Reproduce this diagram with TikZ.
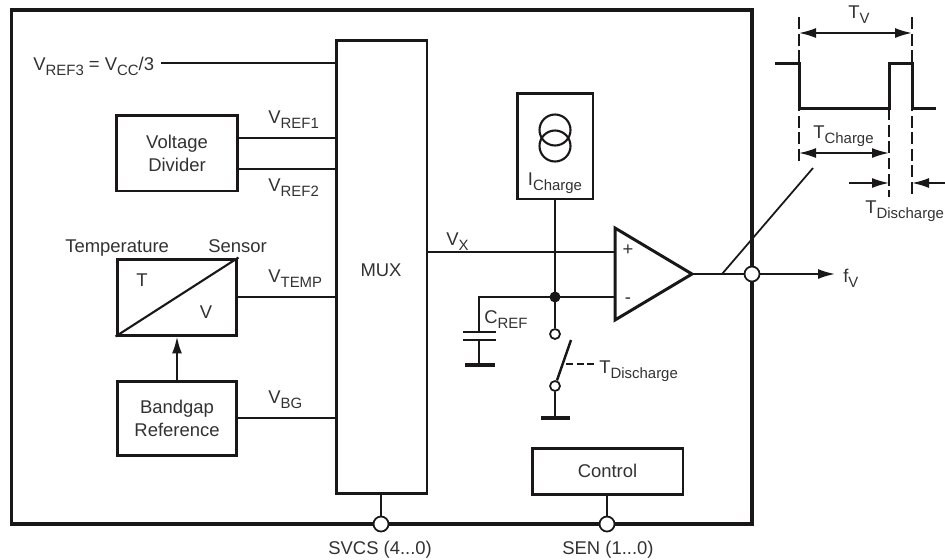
\documentclass[tikz,border=0pt]{standalone}
\usepackage{fontspec}
\setmainfont{Liberation Sans}
\usetikzlibrary{arrows.meta}
\definecolor{ink}{HTML}{1A1718}
\definecolor{txt}{HTML}{333132}
\newcommand{\subt}[1]{\raisebox{-0.1cm}{\fontsize{8.5}{9}\selectfont #1}}
\tikzset{
  >={Latex[length=0.34cm,width=0.2cm]},
  wire/.style={ink,line width=1pt},
  box/.style={draw=ink,line width=1.7pt,rectangle,inner sep=0pt,align=center,text=txt},
  bar/.style={ink,line width=2.2pt},
  pin/.style={circle,draw=ink,fill=white,line width=1pt,inner sep=0pt,minimum size=0.3cm},
  pad/.style={circle,draw=ink,fill=white,line width=1pt,inner sep=0pt,minimum size=0.2cm},
  lbl/.style={anchor=base west,inner sep=0pt,text=txt},
  lblc/.style={anchor=base,inner sep=0pt,text=txt},
  guide/.style={ink,line width=1pt,dash pattern=on 0.24cm off 0.09cm},
}
\begin{document}
\begin{tikzpicture}[x=0.02cm,y=-0.02cm,font=\fontsize{10.5}{13}\selectfont]
\useasboundingbox (0,0) rectangle (945,559);
\node[box,line width=2pt,minimum width=14.81cm,minimum height=10.28cm] (chip) at (381.75,267) {};
\node[box,minimum width=1.82cm,minimum height=9.08cm] (mux) at (381.5,267) {};
\node[lblc] (muxlbl) at (381,276) {MUX};
\node[box,minimum width=2.44cm,minimum height=1.52cm] (divider) at (177,153) {Voltage\\Divider};
\node[box,minimum width=2.4cm,minimum height=1.52cm] (sensor) at (177,297) {};
\node[box,minimum width=2.4cm,minimum height=1.48cm] (bandgap) at (177,418) {Bandgap\\Reference};
\node[box,minimum width=1.52cm,minimum height=2.12cm] (charge) at (555,146) {};
\node[box,minimum width=3.02cm,minimum height=0.92cm] (control) at (607.5,471) {Control};

\draw[wire,line width=1.2pt] (sensor.south west) -- (sensor.north east);
\draw[wire,line width=1.2pt,->] (bandgap.north) -- (sensor.south);
\node[lbl] (templbl) at (65,252) {Temperature};
\node[lbl] (senslbl) at (208,252) {Sensor};
\node[lblc] (tlbl) at (142,286) {T};
\node[lblc] (vlbl) at (206,318) {V};

\node[lbl] (vref3) at (33,70) {V\subt{REF3} = V\subt{CC}/3};
\coordinate (vref3end) at (161,63);
\draw[wire] (vref3end) -- (vref3end -| mux.west);
\coordinate (vref1end) at (238,138);
\coordinate (vref2end) at (238,169);
\draw[wire] (vref1end) -- (vref1end -| mux.west);
\draw[wire] (vref2end) -- (vref2end -| mux.west);
\node[lbl] (vref1) at (268,123) {V\subt{REF1}};
\node[lbl] (vref2) at (268,191) {V\subt{REF2}};
\coordinate (vtempend) at (237,297);
\coordinate (vbgend) at (237,418);
\draw[wire] (vtempend) -- (vtempend -| mux.west);
\draw[wire] (vbgend) -- (vbgend -| mux.west);
\node[lbl] (vtemp) at (268,282) {V\subt{TEMP}};
\node[lbl] (vbg) at (268,403) {V\subt{BG}};

\draw[wire,line width=1.2pt] (555,130) circle (15.5);
\draw[wire,line width=1.2pt] (555,146) circle (15.5);
\node[lblc] (icharge) at (555,185) {I\subt{Charge}};

\coordinate (cmpa) at (615,228);
\coordinate (cmpb) at (615,320);
\coordinate (cmpo) at (692,274);
\coordinate (cmpp) at (615,252);
\coordinate (cmpm) at (615,297);
\draw[wire] (cmpp -| mux.east) -- (cmpp);
\draw[wire] (cmpm) -- (479,297) -- (479,332);
\node[lbl] (vx) at (446,245) {V\subt{X}};
\node[lblc] (pluslbl) at (628,255) {+};
\node[lblc] (minuslbl) at (628,303) {-};
\draw[ink,line width=1.7pt,line join=miter] (cmpa) -- (cmpo) -- (cmpb) -- cycle;

\coordinate (dot) at (555,297);
\node[pad] (swtop) at (555,334) {};
\node[pad] (swbot) at (555,386) {};
\draw[wire] (charge.south) -- (swtop);
\fill[ink] (dot) circle (5.5);
\coordinate (gnda) at (555,418);
\draw[wire] (swbot) -- (gnda);
\draw[bar] (541,418) -- (570,418);
\draw[wire,line width=1.4pt] (swbot) -- (571,340);
\draw[wire,dash pattern=on 0.14cm off 0.07cm] (566,364) -- (596,364);
\node[lbl] (tdis) at (599,373) {T\subt{Discharge}};

\draw[wire,line width=1.5pt] (463,332) -- (496,332);
\draw[wire,line width=1.5pt] (463,340) -- (496,340);
\draw[wire] (479,340) -- (479,365);
\draw[bar] (465,365) -- (495,365);
\node[lbl] (cref) at (484,323) {C\subt{REF}};

\node[pin] (pinf) at (752,274) {};
\node[lbl] (fv) at (843,282) {f\subt{V}};
\coordinate (fvend) at (835,274);
\draw[wire] (cmpo) -- (pinf);
\draw[wire,->] (pinf) -- (fvend);
\coordinate (tap) at (722,274);
\draw[wire] (tap) -- (813,168);

\node[pin] (pinsvcs) at (381,524) {};
\node[pin] (pinsen) at (607,524) {};
\draw[wire] (mux.south -| pinsvcs) -- (pinsvcs);
\draw[wire] (control.south -| pinsen) -- (pinsen);
\node[lbl] (svcs) at (328,554) {SVCS (4...0)};
\node[lbl] (sen) at (562,554) {SEN (1...0)};

\coordinate (ta) at (799,17);
\coordinate (tb) at (889,108);
\coordinate (tc) at (912,17);
\draw[guide] (ta) -- (799,165);
\draw[guide] (tb) -- (889,197);
\draw[guide] (tc) -- (912,197);
\draw[ink,line width=1.7pt] (775,63) -- (799,63) -- (799,108) -- (889,108) -- (889,63) -- (912,63) -- (912,108) -- (936,108);
\draw[wire,<->] (799,33) -- (912,33);
\draw[wire,<->] (799,153) -- (889,153);
\draw[wire,->] (849,183) -- (889,183);
\draw[wire,->] (945,183) -- (912,183);
\node[lbl] (tv) at (848,18) {T\subt{V}};
\node[lbl] (tchg) at (813,138) {T\subt{Charge}};
\node[lbl] (tdist) at (865,213) {T\subt{Discharge}};
\end{tikzpicture}
\end{document}
